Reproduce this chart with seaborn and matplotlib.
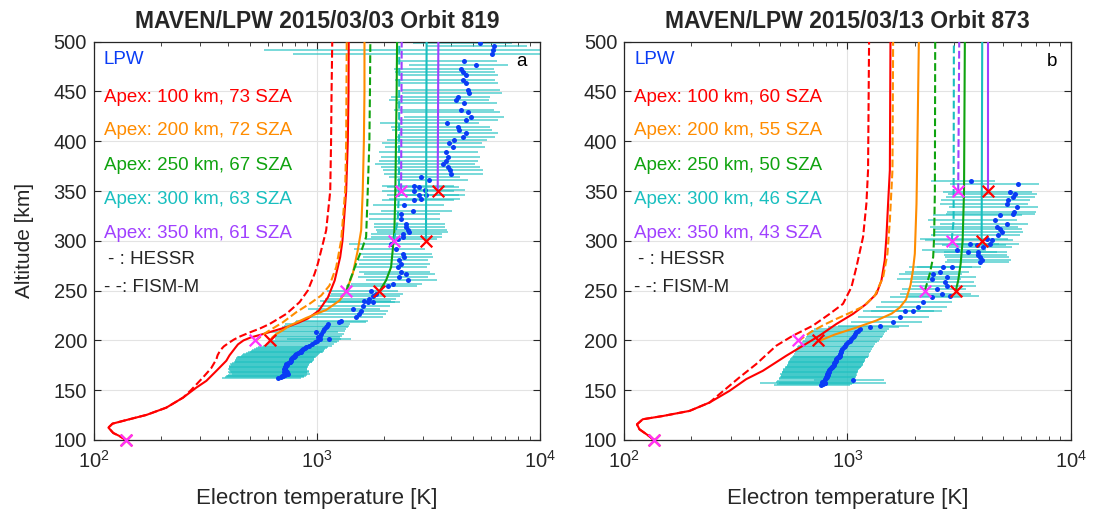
import numpy as np
import pandas as pd
import seaborn as sns
import matplotlib
matplotlib.use('Agg')
import matplotlib.pyplot as plt
from matplotlib.ticker import LogLocator, NullFormatter, MultipleLocator

# ---------------- Orbit 819 (panel a) ----------------
# LPW electron temperature profile and its error bars (minus / plus)
lpw_a_alt = [162.5, 163.2, 163.8, 164.5, 165.3, 166.1, 167.0, 167.8, 168.6, 169.5,
             170.3, 171.1, 172.0, 172.8, 173.7, 174.5, 175.4, 176.2, 177.0, 177.9,
             178.7, 179.6, 180.4, 181.2, 182.1, 182.9, 183.8, 184.6, 185.5, 186.3,
             187.1, 188.0, 188.8, 189.6, 190.5, 191.3, 192.2, 193.0, 194.7, 196.4,
             198.0, 199.7, 201.4, 201.4, 203.1, 204.8, 206.4, 208.1, 209.8, 211.5,
             213.2, 214.8, 216.5,
             218.2, 219.9, 223.2, 226.6, 230.0, 231.6, 235.0, 238.4, 238.4, 240.0,
             241.7, 245.1, 246.8, 250.1,
             255.1, 256.8, 260.2, 263.5, 266.9, 268.6, 273.6, 277.0, 280.3, 283.7,
             287.1, 292.1, 297.2,
             302.2, 303.8, 307.2, 308.9, 310.6, 313.9, 317.3, 322.3, 327.4, 329.7,
             335.8, 340.8, 342.5, 345.8, 345.8, 350.2, 350.9, 354.2, 354.9, 360.9,
             364.3,
             367.0, 371.0, 374.4, 377.1, 380.4, 384.5, 389.5, 394.5, 397.9, 401.3,
             404.6, 408.0, 411.3, 414.7, 418.1, 421.4, 424.8, 429.8, 431.5, 438.2,
             441.6, 444.9, 448.3, 451.6, 458.4, 461.7, 466.1, 469.4, 472.5, 476.8,
             480.2, 487.6, 491.3, 495.3, 498.7]
lpw_a_te = [670, 690, 705, 695, 715, 740, 720, 712, 730, 728,
            720, 712, 718, 716, 722, 725, 730, 728, 740, 753,
            758, 762, 765, 766, 772, 779, 785, 795, 800, 807,
            820, 835, 845, 850, 858, 864, 880, 895, 925, 950,
            975, 1000, 1026, 1137, 1008, 1030, 1045, 991, 1062, 1080,
            1099, 1110, 1118,
            1261, 1283, 1497, 1549, 1577, 1446, 1603, 1688, 1778, 1631,
            1718, 1778, 1841, 1748,
            2075, 2183, 2549, 2339, 2506, 2380, 2300, 2380, 2339, 2464,
            2421, 2261, 2148,
            2300, 2421, 2421, 2575, 2549, 2506, 2506, 2380, 2380, 2683,
            2464, 2730, 2926, 2875, 3080, 2730, 3060, 2875, 2730, 3165,
            2926,
            3983, 3944, 3849, 3656, 3783, 3849, 3783, 4051, 3915, 4124,
            4494, 4647, 4342, 4266, 3808, 4647, 4927, 4729, 4418, 4570,
            4195, 4266, 4811, 4729, 4647, 4494, 4647, 4494, 4418, 5155,
            4570, 6120, 6170, 6225, 5370]
lpw_a_lo = [295, 305, 310, 305, 315, 325, 315, 315, 320, 320,
            315, 315, 315, 315, 320, 320, 320, 320, 325, 330,
            330, 335, 335, 335, 340, 340, 345, 340, 340, 340,
            340, 345, 345, 345, 345, 345, 345, 350, 355, 360,
            365, 370, 380, 400, 380, 385, 390, 370, 390, 395,
            400, 400, 400,
            465, 475, 555, 575, 585, 535, 595, 625, 660, 605,
            635, 660, 680, 645,
            725, 765, 890, 820, 875, 835, 805, 835, 820, 860,
            845, 790, 750,
            645, 680, 680, 720, 715, 700, 700, 665, 665, 750,
            690, 765, 820, 805, 860, 765, 855, 805, 765, 885,
            820,
            1990, 1970, 1920, 1830, 1890, 1920, 1890, 2030, 1960, 2060,
            2250, 2320, 2170, 2130, 1900, 2320, 2460, 2360, 2210, 2290,
            2100, 2130, 2410, 2360, 2320, 2250, 2320, 2250, 2210, 2580,
            2290, 5340, 5590, 3110, 2690]
lpw_a_hi = [175, 180, 185, 180, 185, 190, 185, 185, 190, 190,
            185, 185, 185, 185, 190, 190, 190, 190, 190, 195,
            195, 200, 200, 200, 200, 205, 205, 205, 210, 210,
            215, 215, 220, 220, 220, 225, 225, 230, 240, 245,
            250, 255, 260, 280, 260, 265, 270, 255, 270, 275,
            280, 285, 285,
            405, 410, 480, 495, 505, 465, 515, 540, 570, 520,
            550, 570, 590, 560,
            725, 765, 890, 820, 875, 835, 805, 835, 820, 860,
            845, 790, 750,
            1150, 1210, 1210, 1290, 1275, 1250, 1250, 1190, 1190, 1340,
            1230, 1365, 1460, 1440, 1540, 1365, 1530, 1440, 1365, 1580,
            1460,
            1590, 1580, 1540, 1460, 1510, 1540, 1510, 1620, 1570, 1650,
            1800, 1860, 1740, 1710, 1520, 1860, 1970, 1890, 1770, 1830,
            1680, 1710, 1920, 1890, 1860, 1800, 1860, 1800, 1770, 2060,
            1830, 4000, 4000, 2490, 2150]

# model profiles, HESSR (solid) and FISM-M (dashed)
a_red_alt = [100, 104, 107, 112.4, 116.4, 120.1, 125.2, 132.5, 142.6, 152.7, 159.4, 169.5, 179.6,
             185, 192, 196, 200, 203, 206, 210, 214, 218, 222, 230, 243.4, 260.2, 283.7, 300,
             350, 400, 450, 500]
a_red_te = [139, 130, 122, 116, 121, 140, 172, 211, 251, 288, 319, 354, 392,
            405, 428, 442, 468, 505, 565, 650, 745, 830, 910, 1020, 1120, 1200, 1270, 1300,
            1351, 1374, 1384, 1387]
a_red_d_alt = [100, 104, 107, 112.4, 116.4, 120.1, 125.2, 132.5, 142.6, 150, 162.8, 172, 181.2,
               185, 190, 194, 198, 201, 204, 208, 212, 216.5, 226.6, 238.4, 250.1, 266.9, 277,
               297.1, 310.6, 350, 400, 450, 500]
a_red_d_te = [139, 130, 122, 116, 121, 140, 172, 211, 251, 272, 308, 335, 354,
              358, 368, 382, 405, 425, 452, 499, 555, 613, 728, 835, 909, 975, 1008,
              1062, 1099, 1146, 1156, 1162, 1170]
a_orange_alt = [199, 203, 206.4, 210, 214.8, 222.6, 230.6, 240, 249.4, 266.9, 290.4, 310.6,
                350, 400, 450, 500]
a_orange_te = [613, 630, 656, 700, 753, 895, 1099, 1261, 1351, 1446, 1523, 1577,
               1603, 1622, 1632, 1632]
a_orange_d_alt = [199, 208.1, 218.2, 228.3, 236.7, 245.1, 255.1, 273.6, 300.5, 350, 400, 500]
a_orange_d_te = [525, 593, 703, 807, 925, 1044, 1137, 1219, 1283, 1337, 1351, 1359]
a_green_alt = [249.4, 260.2, 273.6, 290.4, 310.6, 350, 400, 450, 500]
a_green_te = [1905, 2039, 2148, 2184, 2223, 2245, 2260, 2275, 2285]
a_green_d_alt = [249.4, 263.5, 277, 293.8, 303.9, 350, 400, 450, 500]
a_green_d_te = [1351, 1422, 1497, 1603, 1660, 1688, 1717, 1727, 1734]
a_cyan_alt, a_cyan_te = [300, 500], [3080, 3100]
a_cyan_d_alt, a_cyan_d_te = [300, 320, 350, 500], [2208, 2300, 2330, 2339]
a_purple_alt, a_purple_te = [350, 500], [3476, 3500]
a_purple_d_alt, a_purple_d_te = [350, 500], [2382, 2397]

apex_alt = [100, 200, 250, 300, 350]
a_mag_te = [139, 525, 1351, 2208, 2382]
a_red_x_te = [139, 613, 1905, 3080, 3476]
a_sza = [73, 72, 67, 63, 61]

# ---------------- Orbit 873 (panel b) ----------------
lpw_b_alt = [155.5, 156.1, 156.8, 157.7, 158.5, 159.3, 160.1, 160.9, 161.8, 162.8,
             163.6, 164.5, 165.3, 166.1, 167.0, 167.8, 168.6, 169.5, 170.3, 171.2,
             172.0, 172.8, 173.7, 174.5, 175.4, 176.2, 177.0, 177.9, 178.7, 179.6,
             180.4, 181.2, 182.1, 182.9, 183.8, 184.6, 186.3, 188.0, 189.6, 191.3,
             193.0, 194.7, 196.4, 198.0, 199.7, 201.4, 203.1, 204.8, 206.4, 208.1,
             209.8, 211.5,
             213.1, 214.8, 218.2, 223.2, 230.0, 230.0, 233.3, 238.4, 243.4, 245.1,
             246.8,
             251.8, 255.1, 258.5, 261.9, 263.5, 266.9, 268.6, 273.6, 273.6, 278.7,
             280.3, 283.7, 285.4, 288.7, 288.7, 290.4, 293.8, 295.4, 297.1, 297.1,
             300.5, 302.2, 305.5, 308.9, 312.2, 313.9, 317.3, 320.6, 325.7, 327.4,
             329.0, 334.1, 337.4, 340.8, 344.1, 347.5, 349.2, 356.9, 360.3]
lpw_b_te = [760, 777, 795, 790, 772, 785, 1059, 795, 800, 804,
            812, 808, 815, 810, 820, 818, 825, 830, 828, 832,
            845, 850, 855, 861, 868, 870, 874, 877, 882, 885,
            888, 892, 900, 910, 918, 923, 930, 935, 939, 950,
            962, 972, 990, 1005, 1023, 1040, 1055, 1065, 1078, 1095,
            1110, 1135,
            1259, 1395, 1602, 1716, 1969, 1807, 2074, 2184, 2382, 2877,
            2641,
            2507, 2781, 2733, 2382, 2781, 2422, 2594, 2686, 2930, 3923,
            3991, 3923, 3855, 3478, 3855, 3083, 4062, 3791, 3538, 4351,
            4427, 4204, 4742, 4909, 4826, 4665, 5168, 4580, 4826, 5537,
            5594, 5730, 5168, 5260, 5537, 5633, 5350, 5794, 3565]
lpw_b_lo = [290, 295, 300, 386, 295, 300, 350, 300, 305, 305,
            310, 305, 310, 310, 310, 310, 315, 315, 315, 315,
            320, 325, 325, 325, 330, 330, 330, 335, 335, 335,
            335, 340, 340, 345, 350, 350, 355, 355, 355, 360,
            365, 370, 375, 380, 390, 395, 400, 405, 410, 415,
            420, 430,
            440, 490, 560, 600, 690, 630, 725, 765, 830, 1000,
            920,
            750, 830, 820, 715, 830, 725, 780, 805, 880, 1180,
            1200, 1180, 1160, 1040, 1160, 925, 1220, 1140, 1060, 1300,
            2210, 2100, 2370, 2450, 2410, 2330, 2580, 2290, 2410, 2770,
            2800, 2870, 2580, 2630, 2770, 2820, 2680, 2900, 1200]
lpw_b_hi = [265, 270, 280, 705, 270, 275, 400, 280, 280, 280,
            285, 285, 285, 285, 285, 285, 290, 290, 290, 290,
            295, 300, 300, 300, 305, 305, 305, 305, 310, 310,
            310, 310, 315, 320, 320, 325, 325, 325, 330, 335,
            335, 340, 345, 350, 360, 365, 370, 375, 375, 385,
            390, 400,
            440, 490, 560, 600, 690, 630, 725, 765, 830, 1000,
            920,
            880, 970, 960, 835, 970, 850, 910, 940, 1025, 1370,
            1400, 1370, 1350, 1220, 1350, 1080, 1420, 1330, 1240, 1520,
            1110, 1050, 1190, 1230, 1210, 1170, 1290, 1150, 1210, 1380,
            1400, 1430, 1290, 1320, 1380, 1410, 1340, 1450, 1000]

b_red_alt = [100, 104, 110.7, 115.7, 120.8, 124.1, 129.2, 137.6, 149.3, 161.1, 169.5, 184.6, 194.7,
             204.8, 216.5, 226.6, 236.7, 246.8, 260.2, 280.3, 303.9, 337.4, 371, 500]
b_red_te = [136, 129, 117, 114, 121, 149, 196, 241, 296, 352, 418, 532, 632,
            750, 892, 1059, 1216, 1349, 1420, 1469, 1495, 1521, 1549, 1559]
b_red_d_alt = [100, 104, 110.7, 115.7, 120.8, 124.1, 129.2, 137.6, 146, 162.8, 176.2, 194.7, 204.8,
               214.8, 226.6, 236.7, 253.5, 273.6, 303.9, 337.4, 371, 500]
b_red_d_te = [136, 129, 117, 114, 121, 149, 196, 241, 267, 328, 390, 480, 570,
              700, 832, 955, 1042, 1097, 1175, 1216, 1237, 1250]
b_orange_alt = [199, 206, 213, 220, 227, 233, 241, 255, 270, 287, 337, 371, 500]
b_orange_te = [738, 880, 1100, 1349, 1580, 1716, 1830, 1915, 1965, 2004, 2039, 2051, 2089]
b_orange_d_alt = [199, 208, 216, 222, 227, 234, 245, 263.5, 287, 320.6, 371, 500]
b_orange_d_te = [600, 680, 790, 900, 1010, 1175, 1326, 1445, 1511, 1549, 1591, 1602]
b_green_alt = [250, 260.2, 277, 300, 350, 500]
b_green_te = [3060, 3136, 3216, 3282, 3330, 3358]
b_green_d_alt = [250, 267, 283.7, 304, 350, 500]
b_green_d_te = [2223, 2339, 2422, 2446, 2465, 2473]
b_cyan_alt, b_cyan_te = [300, 500], [3993, 4017]
b_cyan_d_alt, b_cyan_d_te = [300, 320, 500], [2930, 2990, 2999]
b_purple_alt, b_purple_te = [350, 500], [4245, 4245]
b_purple_d_alt, b_purple_d_te = [350, 500], [3136, 3169]

b_mag_te = [136, 600, 2223, 2930, 3136]
b_red_x_te = [136, 738, 3060, 3993, 4245]
b_sza = [60, 55, 50, 46, 43]

apex_km = [100, 200, 250, 300, 350]
apex_colors = ['#FF0000', '#FF8C00', '#0FA30F', '#19BFBF', '#A040FF']
blue = '#0A3CF5'
bar_col = '#1FC0C0'

sns.set_style('ticks')
plt.rcParams['font.family'] = ['Liberation Sans', 'DejaVu Sans']
plt.rcParams['axes.edgecolor'] = '#262626'
plt.rcParams['xtick.color'] = '#262626'
plt.rcParams['ytick.color'] = '#262626'

fig = plt.figure(figsize=(11.01, 5.14), dpi=100)
ax_a = fig.add_axes([0.0854, 0.1440, 0.4051, 0.7749])
ax_b = fig.add_axes([0.5670, 0.1440, 0.4054, 0.7749])


def draw_panel(ax, lpw_alt, lpw_te, lpw_lo, lpw_hi, solid, dashed, mag_te, red_te, sza, letter, title):
    lpw = pd.DataFrame({'alt': lpw_alt, 'te': lpw_te, 'lo': lpw_lo, 'hi': lpw_hi})
    ax.errorbar(lpw['te'], lpw['alt'], xerr=[lpw['lo'], lpw['hi']], fmt='none', ecolor=bar_col,
                elinewidth=1.3, alpha=0.65, capsize=0, zorder=2)
    sns.scatterplot(data=lpw, x='te', y='alt', ax=ax, color=blue, s=13, linewidth=0, zorder=3)

    for (alt, te), col in zip(solid, apex_colors):
        sns.lineplot(x=te, y=alt, ax=ax, color=col, lw=1.5, orient='y', zorder=4)
    for (alt, te), col in zip(dashed, apex_colors):
        sns.lineplot(x=te, y=alt, ax=ax, color=col, lw=1.5, orient='y', linestyle='--', zorder=4)

    ax.scatter(red_te, apex_alt, marker='x', color='#FF0000', s=70, linewidths=1.6, zorder=5, clip_on=False)
    ax.scatter(mag_te, apex_alt, marker='x', color='#FF33FF', s=70, linewidths=1.6, zorder=6, clip_on=False)

    ax.set_xscale('log')
    ax.set_xlim(100, 10000)
    ax.set_ylim(100, 500)
    ax.yaxis.set_major_locator(MultipleLocator(50))
    ax.xaxis.set_major_locator(LogLocator(base=10, numticks=5))
    ax.xaxis.set_minor_locator(LogLocator(base=10, subs=np.arange(2, 10), numticks=20))
    ax.xaxis.set_minor_formatter(NullFormatter())
    ax.grid(True, which='major', color='#E3E3E3', lw=0.8, zorder=0)
    ax.set_axisbelow(True)
    ax.tick_params(which='both', direction='in', top=True, right=True, labelsize=14.5)
    ax.tick_params(axis='x', which='major', pad=7)
    ax.tick_params(axis='y', which='major', pad=5)
    ax.tick_params(which='major', length=5, width=0.8)
    ax.tick_params(which='minor', length=3, width=0.6)
    for sp in ax.spines.values():
        sp.set_linewidth(0.9)
    ax.set_xlabel('Electron temperature [K]', fontsize=16, labelpad=12)
    ax.set_title(title, fontsize=16.5, fontweight='bold', pad=10)

    ax.text(0.022, 0.955, 'LPW', transform=ax.transAxes, color=blue, fontsize=13.5, va='center')
    ax.text(0.97, 0.95, letter, transform=ax.transAxes, color='black', fontsize=13.5, va='center', ha='right')
    ys = [0.861, 0.776, 0.690, 0.605, 0.519]
    for y, km, s, col in zip(ys, apex_km, sza, apex_colors):
        ax.text(0.022, y, f'Apex: {km} km, {s} SZA', transform=ax.transAxes, color=col,
                fontsize=13.5, va='center')
    ax.text(0.031, 0.453, '- : HESSR', transform=ax.transAxes, fontsize=13.5, va='center')
    ax.text(0.022, 0.383, '- -: FISM-M', transform=ax.transAxes, fontsize=13.5, va='center')


draw_panel(ax_a, lpw_a_alt, lpw_a_te, lpw_a_lo, lpw_a_hi,
           [(a_red_alt, a_red_te), (a_orange_alt, a_orange_te), (a_green_alt, a_green_te),
            (a_cyan_alt, a_cyan_te), (a_purple_alt, a_purple_te)],
           [(a_red_d_alt, a_red_d_te), (a_orange_d_alt, a_orange_d_te), (a_green_d_alt, a_green_d_te),
            (a_cyan_d_alt, a_cyan_d_te), (a_purple_d_alt, a_purple_d_te)],
           a_mag_te, a_red_x_te, a_sza, 'a', 'MAVEN/LPW 2015/03/03 Orbit 819')
draw_panel(ax_b, lpw_b_alt, lpw_b_te, lpw_b_lo, lpw_b_hi,
           [(b_red_alt, b_red_te), (b_orange_alt, b_orange_te), (b_green_alt, b_green_te),
            (b_cyan_alt, b_cyan_te), (b_purple_alt, b_purple_te)],
           [(b_red_d_alt, b_red_d_te), (b_orange_d_alt, b_orange_d_te), (b_green_d_alt, b_green_d_te),
            (b_cyan_d_alt, b_cyan_d_te), (b_purple_d_alt, b_purple_d_te)],
           b_mag_te, b_red_x_te, b_sza, 'b', 'MAVEN/LPW 2015/03/13 Orbit 873')

ax_a.set_ylabel('Altitude [km]', fontsize=15, labelpad=14)
ax_b.set_ylabel('')

fig.savefig('out.png', dpi=100)
